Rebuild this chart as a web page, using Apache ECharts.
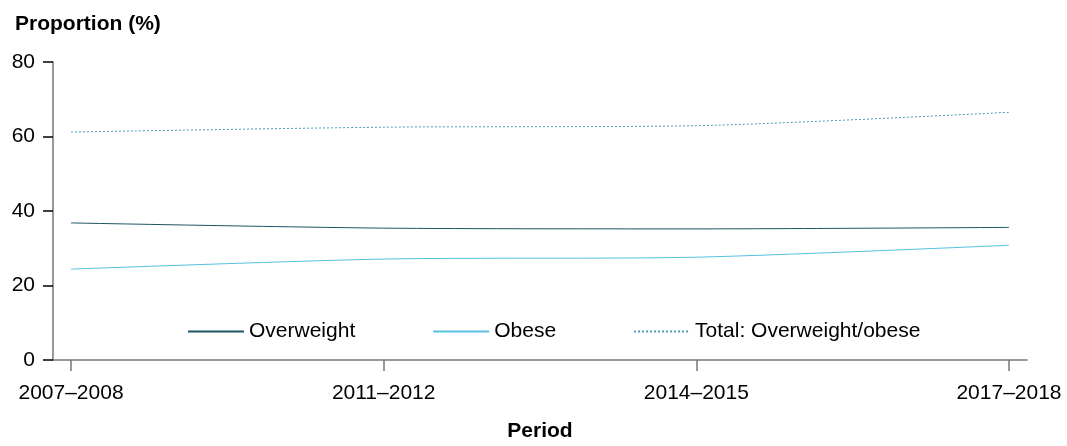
<!DOCTYPE html>
<html>
<head>
<meta charset="utf-8">
<script src="https://cdn.jsdelivr.net/npm/echarts@6/dist/echarts.min.js"></script>
<style>
  html, body { margin: 0; padding: 0; background: #fff; }
  #chart { width: 1067px; height: 446px; }
</style>
</head>
<body>
<div id="chart"></div>
<script>
var periods = ['2007\u20132008', '2011\u20132012', '2014\u20132015', '2017\u20132018'];
var overweight = [36.8, 35.4, 35.2, 35.6];
var obese = [24.4, 27.1, 27.6, 30.8];
var total = [61.2, 62.5, 62.9, 66.5];
var yTicks = [0, 20, 40, 60, 80];

function pairs(values) {
    return values.map(function (v, i) { return [i, v]; });
}

var periodIdx = periods.map(function (p, i) { return i; });

var chart = echarts.init(document.getElementById('chart'));
var font = 'Liberation Sans, Arial, sans-serif';

var option = {
    animation: false,
    title: {
        text: 'Proportion (%)',
        left: 10,
        top: 9,
        textStyle: { fontFamily: font, fontSize: 21, fontWeight: 'bold', color: '#000' }
    },
    legend: {
        left: 182,
        top: 316,
        itemWidth: 56,
        itemHeight: 14,
        itemGap: 77,
        itemStyle: { opacity: 0 },
        textStyle: { fontFamily: font, fontSize: 21, color: '#000' },
        data: ['Overweight', 'Obese', 'Total: Overweight/obese']
    },
    grid: { left: 53, right: 40, top: 62, bottom: 86, outerBoundsMode: 'none' },
    xAxis: {
        type: 'value',
        min: -0.0576,
        max: 3.0576,
        name: 'Period',
        nameLocation: 'middle',
        nameGap: 61,
        nameTextStyle: { fontFamily: font, fontSize: 21, fontWeight: 'bold', color: '#000' },
        splitLine: { show: false },
        axisLine: { show: true, lineStyle: { color: '#777', width: 1.5 } },
        axisTick: {
            show: true, length: 11, customValues: periodIdx,
            lineStyle: { color: '#777', width: 1.5 }
        },
        axisLabel: {
            customValues: periodIdx,
            margin: 23,
            fontFamily: font, fontSize: 21, color: '#000',
            formatter: function (v) { return periods[Math.round(v)]; }
        }
    },
    yAxis: {
        type: 'value',
        min: yTicks[0],
        max: yTicks[yTicks.length - 1],
        interval: 20,
        splitLine: { show: false },
        axisLine: { show: true, onZero: false, lineStyle: { color: '#777', width: 1.5 } },
        axisTick: { show: true, length: 10, lineStyle: { color: '#000', width: 1.5 } },
        axisLabel: { margin: 18, fontFamily: font, fontSize: 21, color: '#000' }
    },
    series: [
        {
            name: 'Overweight',
            type: 'line',
            symbol: 'none',
            smooth: 0.25,
            data: pairs(overweight),
            lineStyle: { color: '#1e5262', width: 1 },
            itemStyle: { color: '#1e5262' }
        },
        {
            name: 'Obese',
            type: 'line',
            symbol: 'none',
            smooth: 0.25,
            data: pairs(obese),
            lineStyle: { color: '#55bfe0', width: 1 },
            itemStyle: { color: '#55bfe0' }
        },
        {
            name: 'Total: Overweight/obese',
            type: 'line',
            symbol: 'none',
            smooth: 0.25,
            data: pairs(total),
            lineStyle: { color: '#4a9ab5', width: 1, type: [2, 2] },
            itemStyle: { color: '#4a9ab5' }
        }
    ]
};

chart.setOption(option);
window.addEventListener('resize', function () { chart.resize(); });
</script>
</body>
</html>
